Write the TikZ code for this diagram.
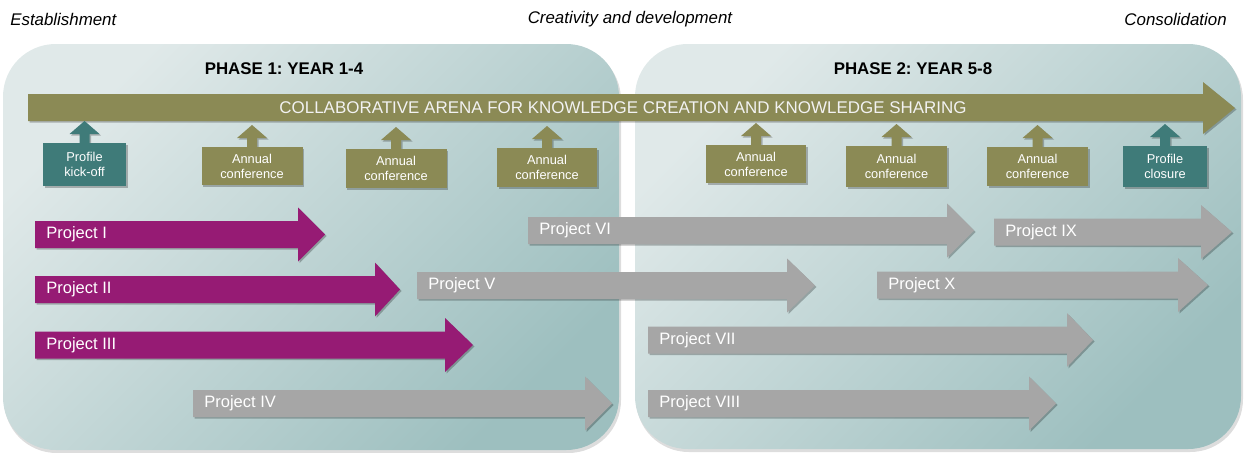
\documentclass[tikz,border=0pt]{standalone}
\usepackage{fontspec}
\setmainfont{Liberation Sans}
\frenchspacing
\definecolor{arenaolive}{HTML}{8B8A55}
\definecolor{tealbox}{HTML}{3F7B79}
\definecolor{purp}{HTML}{961B74}
\definecolor{greyarr}{HTML}{A6A6A6}
\definecolor{panlight}{HTML}{E0E9E9}
\definecolor{pandark}{HTML}{9DBFBF}
\tikzset{
  shadowfill/.style={fill=black,opacity=0.25},
  panelshadow/.style={fill=black!60,opacity=0.22},
  panelfill/.style={top color=panlight,bottom color=pandark,shading angle=45},
  projlabel/.style={text=white,inner sep=0pt,anchor=west,font=\fontsize{9.4}{11}\selectfont},
  boxtext/.style={text=white,inner sep=0pt,align=center,font=\fontsize{7.3}{8.6}\selectfont},
  toplabel/.style={inner sep=0pt,font=\fontsize{9.6}{11}\selectfont\itshape},
  phaselabel/.style={inner sep=0pt,font=\fontsize{9.6}{11}\selectfont\bfseries},
}
\newcommand\projarrow[7]{% name, x0, xhead, xtip, ycenter, colour, label
  \fill[shadowfill,shift={(1.5,1.5)}] (#2,#5-13.5) -- (#3,#5-13.5) -- (#3,#5-27) -- (#4,#5) -- (#3,#5+27) -- (#3,#5+13.5) -- (#2,#5+13.5) -- cycle;
  \fill[#6] (#2,#5-13.5) -- (#3,#5-13.5) -- (#3,#5-27) -- (#4,#5) -- (#3,#5+27) -- (#3,#5+13.5) -- (#2,#5+13.5) -- cycle;
  \node[projlabel] (#1) at (#2+11,#5) {#7};
}
\newcommand\confbox[7]{% name, cx, top, bottom, width, colour, text
  \fill[shadowfill,shift={(1.5,1.5)}] (#2-#5/2,#3) rectangle (#2+#5/2,#4);
  \fill[shadowfill,shift={(1.5,1.5)}] (#2-5,#3) -- (#2-5,#3-9) -- (#2-15,#3-9) -- (#2,#3-22) -- (#2+15,#3-9) -- (#2+5,#3-9) -- (#2+5,#3) -- cycle;
  \fill[#6] (#2-#5/2,#3) rectangle (#2+#5/2,#4);
  \fill[#6] (#2-5,#3) -- (#2-5,#3-9) -- (#2-15,#3-9) -- (#2,#3-22) -- (#2+15,#3-9) -- (#2+5,#3-9) -- (#2+5,#3) -- cycle;
  \node[boxtext] (#1) at (#2,{(#3+#4)/2}) {#7};
}
\begin{document}
\begin{tikzpicture}[x=0.02cm,y=-0.02cm]
\useasboundingbox (0,0) rectangle (1249,453);
% panels
\fill[panelshadow,rounded corners=30pt] (4,47) rectangle (621,453);
\shade[panelfill,rounded corners=30pt] (3,44) rectangle (619,450);
\fill[panelshadow,rounded corners=30pt] (636,47) rectangle (1243,452);
\shade[panelfill,rounded corners=30pt] (635,44) rectangle (1241,449);
% top labels
\node[toplabel,anchor=west] (est) at (10,19) {Establishment};
\node[toplabel] (cre) at (630,19) {Creativity and development};
\node[toplabel,anchor=east] (con) at (1227,19) {Consolidation};
\node[phaselabel] (ph1) at (284,69) {PHASE 1: YEAR 1-4};
\node[phaselabel] (ph2) at (913,69) {PHASE 2: YEAR 5-8};
% arena arrow
\fill[shadowfill,shift={(1.5,1.5)}] (28,94) -- (1203,94) -- (1203,82) -- (1235,108) -- (1203,134) -- (1203,121) -- (28,121) -- cycle;
\fill[arenaolive] (28,94) -- (1203,94) -- (1203,82) -- (1235,108) -- (1203,134) -- (1203,121) -- (28,121) -- cycle;
\node[inner sep=0pt,text=white!95!black,font=\fontsize{9.65}{11}\selectfont] (arena) at (623,108) {COLLABORATIVE ARENA FOR KNOWLEDGE CREATION AND KNOWLEDGE SHARING};
% boxes
\confbox{kick}{84.5}{143}{186}{83}{tealbox}{Profile\\kick-off}
\confbox{ac1}{252}{147}{185}{101}{arenaolive}{Annual\\conference}
\confbox{ac2}{396}{149}{188}{101}{arenaolive}{Annual\\conference}
\confbox{ac3}{547}{148}{187}{100}{arenaolive}{Annual\\conference}
\confbox{ac4}{756}{145}{183}{100}{arenaolive}{Annual\\conference}
\confbox{ac5}{896.5}{146}{187}{101}{arenaolive}{Annual\\conference}
\confbox{ac6}{1037.5}{147}{186}{101}{arenaolive}{Annual\\conference}
\confbox{closure}{1165}{146}{187}{84}{tealbox}{Profile\\closure}
% projects
\projarrow{p1}{35}{298}{325}{234.5}{purp}{Project I}
\projarrow{p2}{35}{375}{400}{289.5}{purp}{Project II}
\projarrow{p3}{35}{445}{473}{345}{purp}{Project III}
\projarrow{p4}{193}{585}{612}{403.5}{greyarr}{Project IV}
\projarrow{p5}{417}{787}{815}{285.5}{greyarr}{Project V}
\projarrow{p6}{528}{947}{974}{230.5}{greyarr}{Project VI}
\projarrow{p7}{648}{1067}{1093}{340}{greyarr}{Project VII}
\projarrow{p8}{648}{1029}{1056}{403.5}{greyarr}{Project VIII}
\projarrow{p9}{994}{1201}{1232}{232}{greyarr}{Project IX}
\projarrow{p10}{877}{1178}{1208}{285}{greyarr}{Project X}
\end{tikzpicture}
\end{document}
